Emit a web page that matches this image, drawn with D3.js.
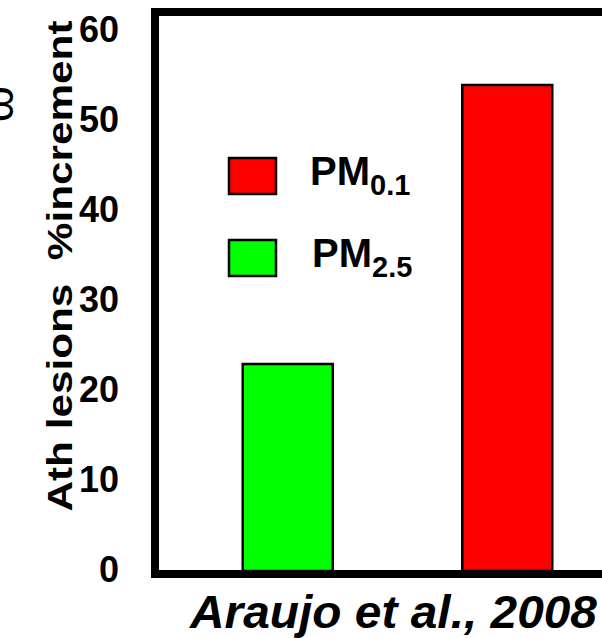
<!DOCTYPE html>
<html>
<head>
<meta charset="utf-8">
<script src="https://cdn.jsdelivr.net/npm/d3@7"></script>
<style>
  html, body { margin: 0; padding: 0; background: #fff; }
  svg { display: block; font-family: "Liberation Sans", Arial, sans-serif; }
</style>
</head>
<body>
<svg id="chart" width="602" height="638"></svg>
<script>
// ---- data ----
const categories = ["PM2.5", "PM0.1"];
const values = [23, 54];
const colors = ["#00ff00", "#ff0000"];
const legendOrder = [
  { base: "PM", sub: "0.1", color: "#ff0000" },
  { base: "PM", sub: "2.5", color: "#00ff00" }
];
const yTicks = [0, 10, 20, 30, 40, 50, 60];
const yLabel = "Ath lesions  %increment";
const xLabel = "Araujo et al., 2008";

// ---- drawing ----
const svg = d3.select("#chart");

const y = d3.scaleLinear().domain([0, 60]).range([571, 31]);
const x = d3.scaleBand().domain(categories).range([133, 662]).paddingInner(0.59).paddingOuter(0.5);

// bars
svg.append("g").selectAll("rect")
  .data(categories)
  .join("rect")
  .attr("x", d => x(d))
  .attr("width", x.bandwidth())
  .attr("y", (d, i) => y(values[i]))
  .attr("height", (d, i) => y(0) - y(values[i]))
  .attr("fill", (d, i) => colors[i])
  .attr("stroke", "#000")
  .attr("stroke-width", 2.5);

// frame (left, top, bottom thick lines; right side off-canvas)
svg.append("rect")
  .attr("x", 155).attr("y", 12)
  .attr("width", 600).attr("height", 562)
  .attr("fill", "none").attr("stroke", "#000").attr("stroke-width", 8);

// y tick labels via axis
const yAxis = d3.axisLeft(y).tickValues(yTicks).tickSize(0).tickPadding(0);
const gy = svg.append("g").attr("transform", "translate(119,0)").call(yAxis);
gy.select(".domain").remove();
gy.selectAll("text")
  .attr("font-size", 36)
  .attr("font-weight", "bold")
  .attr("font-family", "'Liberation Sans', Arial, sans-serif")
  .attr("fill", "#000")
  .attr("dy", "0.3em");

// y label
svg.append("text")
  .attr("transform", "translate(72,266) rotate(-90)")
  .attr("text-anchor", "middle")
  .attr("font-size", 35)
  .attr("font-weight", "bold")
  .attr("textLength", 491)
  .attr("lengthAdjust", "spacingAndGlyphs")
  .style("white-space", "pre")
  .attr("xml:space", "preserve")
  .text(yLabel);

// cut-off glyph at far left
svg.append("text")
  .attr("transform", "translate(13,104) rotate(-90)")
  .attr("text-anchor", "middle")
  .attr("font-size", 46)
  .text("ω");

// x label
svg.append("text")
  .attr("x", 190).attr("y", 628)
  .attr("font-size", 46)
  .attr("font-weight", "bold")
  .attr("font-style", "italic")
  .attr("textLength", 407)
  .attr("lengthAdjust", "spacingAndGlyphs")
  .text(xLabel);

// legend
const legY = [157, 239];
const leg = svg.append("g").selectAll("g")
  .data(legendOrder)
  .join("g")
  .attr("transform", (d, i) => `translate(0,${legY[i]})`);
leg.append("rect")
  .attr("x", 229).attr("y", 1)
  .attr("width", 47).attr("height", 36)
  .attr("fill", d => d.color)
  .attr("stroke", "#000").attr("stroke-width", 2.5);
const lt = leg.append("text")
  .attr("x", (d, i) => i === 0 ? 310 : 312)
  .attr("y", 28)
  .attr("font-size", 40)
  .attr("font-weight", "bold");
lt.append("tspan").text(d => d.base);
lt.append("tspan").attr("font-size", 29).attr("dy", 10).text(d => d.sub);
</script>
</body>
</html>
